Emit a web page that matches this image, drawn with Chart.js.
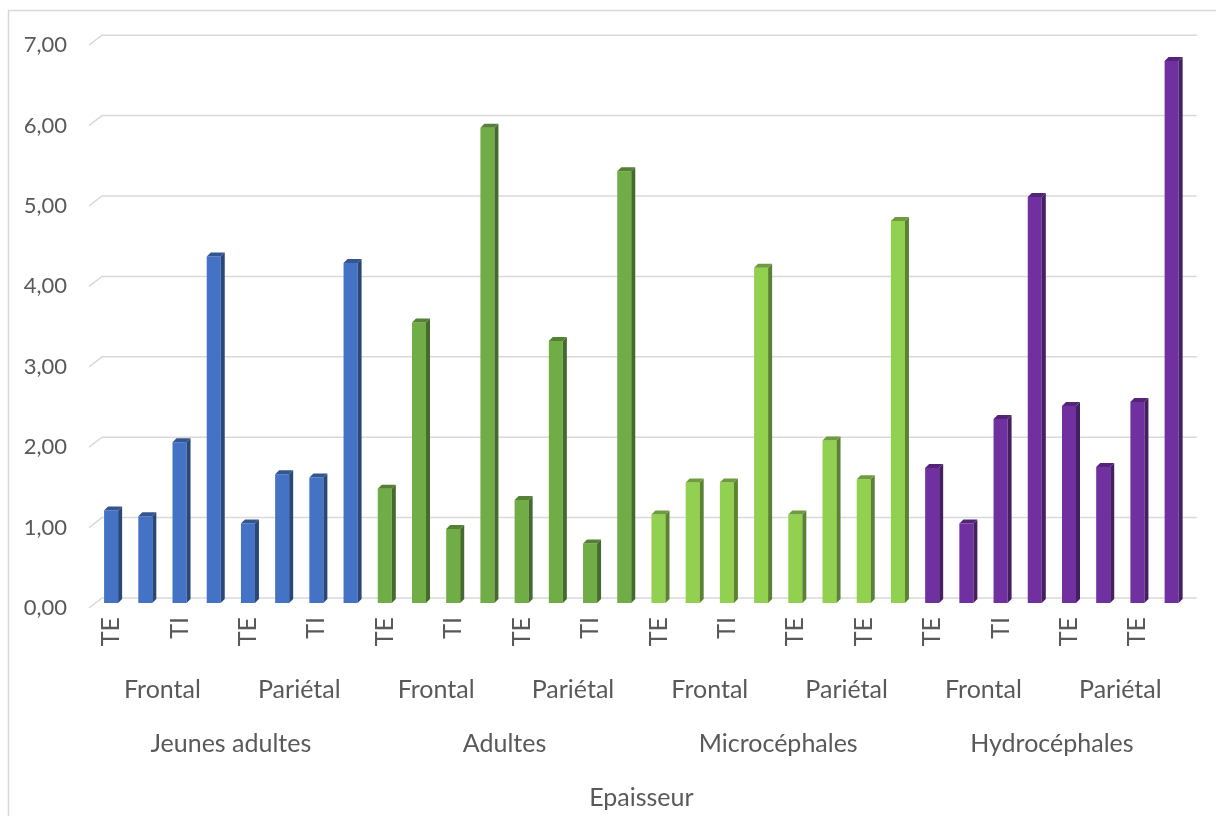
<!DOCTYPE html>
<html>
<head>
<meta charset="utf-8">
<script src="https://cdn.jsdelivr.net/npm/chart.js@4.4.1/dist/chart.umd.min.js"></script>
<style>
  html, body { margin: 0; padding: 0; background: #fff; }
</style>
</head>
<body>
<canvas id="epaisseur" width="1216" height="816"></canvas>
<script>
// data
const groupes = ['Jeunes adultes', 'Adultes', 'Microcéphales', 'Hydrocéphales'];
const regions = ['Frontal', 'Pariétal', 'Frontal', 'Pariétal', 'Frontal', 'Pariétal', 'Frontal', 'Pariétal'];
// only every other label is printed in the picture, the others stay empty
const mesures = [
    'TE', '', 'TI', '', 'TE', '', 'TI', '',
    'TE', '', 'TI', '', 'TE', '', 'TI', '',
    'TE', '', 'TI', '', 'TE', '', 'TE', '',
    'TE', '', 'TI', '', 'TE', '', 'TE', ''
];
const valeurs = [
    1.15, 1.08, 2.00, 4.31, 0.99, 1.60, 1.56, 4.23,
    1.42, 3.49, 0.92, 5.91, 1.28, 3.26, 0.74, 5.37,
    1.10, 1.50, 1.50, 4.17, 1.10, 2.02, 1.54, 4.75,
    1.68, 0.99, 2.29, 5.05, 2.45, 1.69, 2.50, 6.74
];
const yTicks = [0, 1, 2, 3, 4, 5, 6, 7];
const couleurs = ['#4472c4', '#70ad47', '#92d050', '#7030a0'];

const police = { family: 'Lato', size: 25 };
const policeY = { family: 'Lato', size: 22 };
const gris = '#595959';
const ligne = '#d9d9d9';

function assombrir(hex, f) {
    const n = parseInt(hex.slice(1), 16);
    const r = Math.round(((n >> 16) & 255) * f);
    const g = Math.round(((n >> 8) & 255) * f);
    const b = Math.round((n & 255) * f);
    return 'rgb(' + r + ',' + g + ',' + b + ')';
}

const parBarre = valeurs.map((v, i) => couleurs[Math.floor(i / 8)]);

// cadre, quadrillage en perspective et relief des colonnes
const relief = {
    id: 'relief',
    beforeDraw(chart) {
        const ctx = chart.ctx;
        ctx.save();
        ctx.strokeStyle = ligne;
        ctx.lineWidth = 1.5;
        ctx.strokeRect(8.5, 10.5, 1220, 820);
        ctx.restore();
    },
    beforeDatasetsDraw(chart) {
        const ctx = chart.ctx;
        const y = chart.scales.y;
        const area = chart.chartArea;
        ctx.save();
        ctx.strokeStyle = ligne;
        ctx.lineWidth = 1.5;
        yTicks.forEach(v => {
            const p = y.getPixelForValue(v);
            ctx.beginPath();
            ctx.moveTo(area.left - 5, p + 5);
            ctx.lineTo(area.left + 8, p - 5);
            ctx.lineTo(area.right + 8, p - 5);
            ctx.stroke();
        });
        ctx.restore();
    },
    afterDatasetsDraw(chart) {
        const ctx = chart.ctx;
        const meta = chart.getDatasetMeta(0);
        const d = 4;
        ctx.save();
        meta.data.forEach((bar, i) => {
            const c = parBarre[i];
            const g = bar.x - bar.width / 2;
            const dr = bar.x + bar.width / 2;
            // cote
            ctx.fillStyle = assombrir(c, 0.62);
            ctx.beginPath();
            ctx.moveTo(dr, bar.y);
            ctx.lineTo(dr + d, bar.y - d);
            ctx.lineTo(dr + d, bar.base - d);
            ctx.lineTo(dr, bar.base);
            ctx.closePath();
            ctx.fill();
            // dessus
            ctx.fillStyle = assombrir(c, 0.75);
            ctx.beginPath();
            ctx.moveTo(g, bar.y);
            ctx.lineTo(g + d, bar.y - d);
            ctx.lineTo(dr + d, bar.y - d);
            ctx.lineTo(dr, bar.y);
            ctx.closePath();
            ctx.fill();
        });
        ctx.restore();
    }
};

const ctx = document.getElementById('epaisseur').getContext('2d');

const chart = new Chart(ctx, {
    type: 'bar',
    data: {
        labels: mesures,
        datasets: [{
            label: 'Epaisseur',
            data: valeurs,
            backgroundColor: parBarre,
            borderWidth: 0,
            barPercentage: 0.41,
            categoryPercentage: 1
        }]
    },
    options: {
        responsive: false,
        animation: false,
        devicePixelRatio: 1,
        layout: {
            padding: { top: 38, right: 24, bottom: 0, left: 0 }
        },
        plugins: {
            legend: { display: false },
            tooltip: { enabled: false }
        },
        scales: {
            y: {
                min: 0,
                max: 7,
                afterFit(s) { s.width = 94; },
                afterBuildTicks(s) { s.ticks = yTicks.map(v => ({ value: v })); },
                grid: { display: false, drawTicks: false },
                border: { display: false },
                ticks: {
                    color: gris,
                    font: policeY,
                    padding: 27,
                    labelOffset: 5,
                    callback: v => v.toFixed(2).replace('.', ',')
                }
            },
            x: {
                afterFit(s) { s.height = 64; },
                grid: { display: false, drawTicks: false },
                border: { display: false },
                ticks: {
                    color: gris,
                    font: police,
                    autoSkip: false,
                    minRotation: 90,
                    maxRotation: 90,
                    padding: 14
                }
            },
            x2: {
                type: 'category',
                position: 'bottom',
                labels: regions,
                offset: true,
                afterFit(s) { s.height = 54; },
                grid: { display: false, drawTicks: false },
                border: { display: false },
                ticks: { color: gris, font: police, padding: 8, autoSkip: false, maxRotation: 0 }
            },
            x3: {
                type: 'category',
                position: 'bottom',
                labels: groupes,
                offset: true,
                afterFit(s) { s.height = 95; },
                grid: { display: false, drawTicks: false },
                border: { display: false },
                ticks: { color: gris, font: police, padding: 8, autoSkip: false, maxRotation: 0 },
                title: {
                    display: true,
                    text: 'Epaisseur',
                    color: gris,
                    font: police,
                    padding: { top: 0, bottom: 3 }
                }
            }
        }
    },
    plugins: [relief]
});
</script>
</body>
</html>
